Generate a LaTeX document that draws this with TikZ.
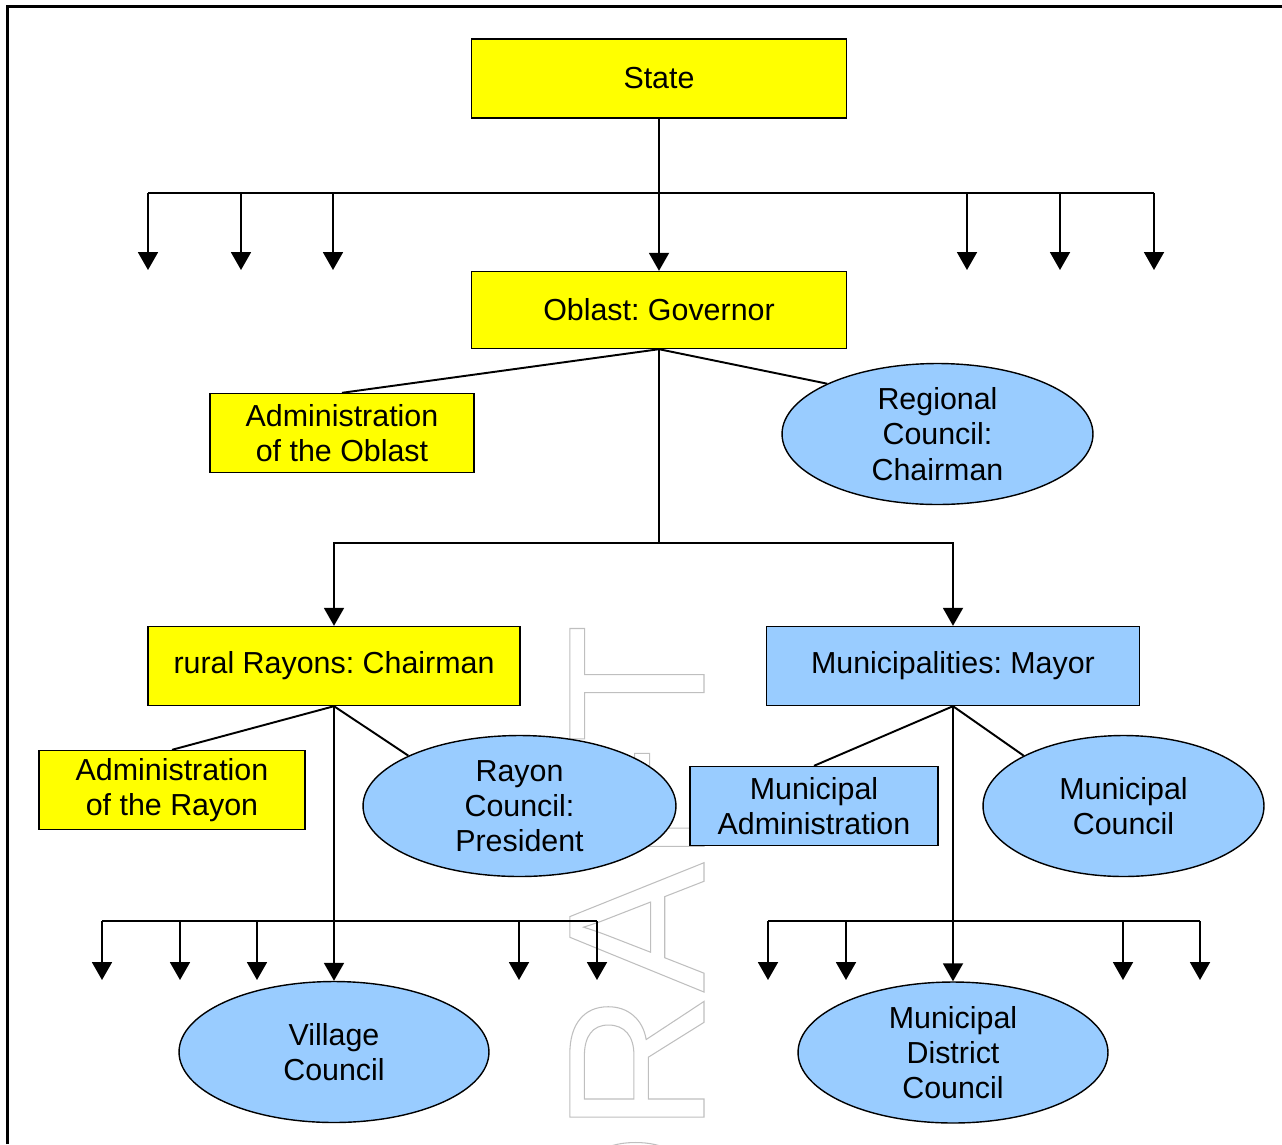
\documentclass[tikz,border=0pt]{standalone}
\usepackage{fontspec}
\setmainfont{Liberation Sans}
\usetikzlibrary{arrows.meta}
\usetikzlibrary{shapes.geometric}
\frenchspacing

\definecolor{boxyellow}{RGB}{255,255,0}
\definecolor{councilblue}{RGB}{153,204,255}

% outlined letters for the watermark
\newcommand{\hollowtext}[1]{\special{pdf:literal direct 1 Tr 0.6 w}#1\special{pdf:literal direct 0 Tr 0.4 w}}

\tikzset{
  office/.style={draw, line width=0.8pt, fill=boxyellow, inner sep=0pt, minimum height=1.58cm, align=center},
  cityoffice/.style={office, fill=councilblue},
  council/.style={ellipse, draw, line width=0.8pt, fill=councilblue, inner sep=0pt, minimum height=2.82cm, align=center},
  link/.style={line width=1.1pt},
  arr/.style={link, -{Triangle[length=0.36cm, width=0.4cm]}}
}

\begin{document}
\begin{tikzpicture}[x=0.02cm, y=-0.02cm, every node/.style={font=\fontsize{17.3}{20}\selectfont}]
\useasboundingbox (0,0) rectangle (1282,1144);
\draw[line width=1.7pt] (7.5,1144) |- (1282,6);

\node[rotate=90, anchor=base, inner sep=0pt, text=black!25, font=\fontsize{111}{111}\selectfont] (draft) at (704,949) {\hollowtext{DRAFT}};

\node[office, minimum width=7.5cm] (state) at (659,78.5) {State};
\node[office, minimum width=7.5cm, minimum height=1.54cm] (oblast) at (659,310) {Oblast: Governor};
\node[office, minimum width=5.28cm] (oblastadmin) at (342,433) {Administration\\of the Oblast};
\node[council, minimum width=6.22cm] (regional) at (937.5,434) {Regional\\Council:\\Chairman};

\node[office, minimum width=7.44cm] (rayons) at (334,666) {rural Rayons: Chairman};
\node[cityoffice, minimum width=7.46cm] (mayor) at (953,666) {Municipalities: Mayor};

\node[office, minimum width=5.32cm] (rayonadmin) at (172,790) {Administration\\of the Rayon};
\node[council, minimum width=6.26cm] (rayoncouncil) at (519.5,806) {Rayon\\Council:\\President};
\node[cityoffice, minimum width=4.96cm] (cityadmin) at (814,806) {Municipal\\Administration};
\node[council, minimum width=5.62cm] (citycouncil) at (1123.5,806) {Municipal\\Council};

\node[council, minimum width=6.2cm] (village) at (334,1052) {Village\\Council};
\node[council, minimum width=6.2cm] (district) at (953,1052.5) {Municipal\\District\\Council};

% state level
\coordinate (statebusL) at (148,193);
\coordinate (statebusR) at (1154,193);
\draw[link] (statebusL) -- (statebusR);
\draw[arr] (state.south) -- (oblast.north);
\foreach \x [count=\i] in {148,241,333,967,1060,1154} {
  \coordinate (oblastout\i) at (\x,270);
  \draw[arr] (oblastout\i |- statebusL) -- (oblastout\i);
}

% oblast level
\draw[link] (oblast.south) -- (oblastadmin.north);
\draw[link] (oblast.south) -- (regional.north west);
\coordinate (split) at (659,543);
\draw[link] (oblast.south) -- (split);
\draw[arr] (split) -| (rayons.north);
\draw[arr] (split) -| (mayor.north);

% rayon level
\draw[link] (rayons.south) -- (rayonadmin.north);
\draw[link] (rayons.south) -- (rayoncouncil.north west);
\draw[arr] (rayons.south) -- (village.north);
\coordinate (rayonbusL) at (102,921);
\coordinate (rayonbusR) at (597,921);
\draw[link] (rayonbusL) -- (rayonbusR);
\foreach \x [count=\i] in {102,180,257,519,597} {
  \coordinate (villageout\i) at (\x,980);
  \draw[arr] (villageout\i |- rayonbusL) -- (villageout\i);
}

% municipal level
\draw[link] (mayor.south) -- (cityadmin.north);
\draw[link] (mayor.south) -- (citycouncil.north west);
\draw[arr] (mayor.south) -- (district.north);
\coordinate (citybusL) at (768,921);
\coordinate (citybusR) at (1200,921);
\draw[link] (citybusL) -- (citybusR);
\foreach \x [count=\i] in {768,846,1123,1200} {
  \coordinate (districtout\i) at (\x,980);
  \draw[arr] (districtout\i |- citybusL) -- (districtout\i);
}
\end{tikzpicture}
\end{document}
